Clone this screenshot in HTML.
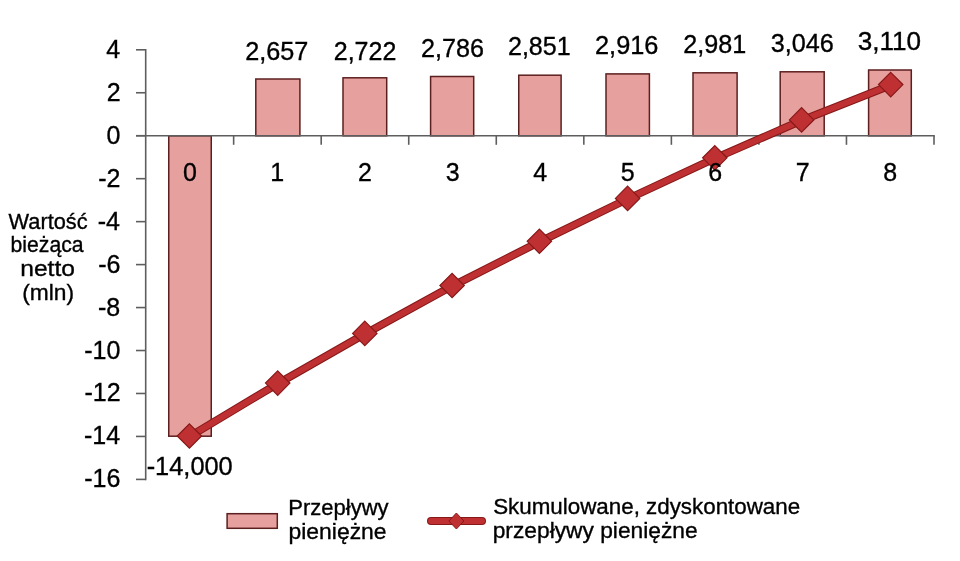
<!DOCTYPE html>
<html><head><meta charset="utf-8"><style>
html,body{margin:0;padding:0;background:#fff;width:960px;height:561px;overflow:hidden;}
svg{display:block;}
text{will-change:transform;}
</style></head><body>
<svg width="960" height="561" viewBox="0 0 960 561">
<rect width="960" height="561" fill="#fff"/>
<rect x="168.75" y="135.80" width="42.50" height="300.40" fill="#E6A09E" stroke="#5C1F1F" stroke-width="1.5"/>
<rect x="255.80" y="79.00" width="44.10" height="56.80" fill="#E6A09E" stroke="#5C1F1F" stroke-width="1.5"/>
<rect x="343.00" y="77.80" width="43.70" height="58.00" fill="#E6A09E" stroke="#5C1F1F" stroke-width="1.5"/>
<rect x="430.60" y="76.50" width="43.10" height="59.30" fill="#E6A09E" stroke="#5C1F1F" stroke-width="1.5"/>
<rect x="518.75" y="75.20" width="42.35" height="60.60" fill="#E6A09E" stroke="#5C1F1F" stroke-width="1.5"/>
<rect x="606.00" y="73.90" width="43.40" height="61.90" fill="#E6A09E" stroke="#5C1F1F" stroke-width="1.5"/>
<rect x="693.00" y="72.80" width="44.10" height="63.00" fill="#E6A09E" stroke="#5C1F1F" stroke-width="1.5"/>
<rect x="780.20" y="71.80" width="44.00" height="64.00" fill="#E6A09E" stroke="#5C1F1F" stroke-width="1.5"/>
<rect x="868.60" y="70.00" width="42.70" height="65.80" fill="#E6A09E" stroke="#5C1F1F" stroke-width="1.5"/>
<g stroke="#5E5E5E" stroke-width="1.6" fill="none">
<line x1="145.70" y1="49.00" x2="145.70" y2="480.20"/>
<line x1="136" y1="49.80" x2="145.70" y2="49.80"/>
<line x1="136" y1="92.76" x2="145.70" y2="92.76"/>
<line x1="136" y1="135.72" x2="145.70" y2="135.72"/>
<line x1="136" y1="178.68" x2="145.70" y2="178.68"/>
<line x1="136" y1="221.64" x2="145.70" y2="221.64"/>
<line x1="136" y1="264.60" x2="145.70" y2="264.60"/>
<line x1="136" y1="307.56" x2="145.70" y2="307.56"/>
<line x1="136" y1="350.52" x2="145.70" y2="350.52"/>
<line x1="136" y1="393.48" x2="145.70" y2="393.48"/>
<line x1="136" y1="436.44" x2="145.70" y2="436.44"/>
<line x1="136" y1="479.40" x2="145.70" y2="479.40"/>
<line x1="136" y1="135.80" x2="934.80" y2="135.80"/>
<line x1="233.64" y1="135.72" x2="233.64" y2="144.8"/>
<line x1="321.19" y1="135.72" x2="321.19" y2="144.8"/>
<line x1="408.73" y1="135.72" x2="408.73" y2="144.8"/>
<line x1="496.28" y1="135.72" x2="496.28" y2="144.8"/>
<line x1="583.82" y1="135.72" x2="583.82" y2="144.8"/>
<line x1="671.37" y1="135.72" x2="671.37" y2="144.8"/>
<line x1="758.91" y1="135.72" x2="758.91" y2="144.8"/>
<line x1="846.46" y1="135.72" x2="846.46" y2="144.8"/>
<line x1="934.00" y1="135.72" x2="934.00" y2="144.8"/>
</g>
<polyline points="189.40,436.60 277.70,383.70 364.80,334.00 452.10,286.10 539.40,241.90 627.60,199.00 714.80,158.40 801.60,120.50 890.70,85.20" fill="none" stroke="#861818" stroke-width="8" stroke-linejoin="round" stroke-linecap="round"/>
<polyline points="189.40,436.60 277.70,383.70 364.80,334.00 452.10,286.10 539.40,241.90 627.60,199.00 714.80,158.40 801.60,120.50 890.70,85.20" fill="none" stroke="#BF3032" stroke-width="6" stroke-linejoin="round" stroke-linecap="round"/>
<path d="M189.40,423.80 L201.60,436.00 L189.40,448.20 L177.20,436.00Z" fill="#BF3032" stroke="#861818" stroke-width="1.2"/>
<path d="M277.70,370.90 L289.90,383.10 L277.70,395.30 L265.50,383.10Z" fill="#BF3032" stroke="#861818" stroke-width="1.2"/>
<path d="M364.80,321.20 L377.00,333.40 L364.80,345.60 L352.60,333.40Z" fill="#BF3032" stroke="#861818" stroke-width="1.2"/>
<path d="M452.10,273.30 L464.30,285.50 L452.10,297.70 L439.90,285.50Z" fill="#BF3032" stroke="#861818" stroke-width="1.2"/>
<path d="M539.40,229.10 L551.60,241.30 L539.40,253.50 L527.20,241.30Z" fill="#BF3032" stroke="#861818" stroke-width="1.2"/>
<path d="M627.60,186.20 L639.80,198.40 L627.60,210.60 L615.40,198.40Z" fill="#BF3032" stroke="#861818" stroke-width="1.2"/>
<path d="M714.80,145.60 L727.00,157.80 L714.80,170.00 L702.60,157.80Z" fill="#BF3032" stroke="#861818" stroke-width="1.2"/>
<path d="M801.60,107.70 L813.80,119.90 L801.60,132.10 L789.40,119.90Z" fill="#BF3032" stroke="#861818" stroke-width="1.2"/>
<path d="M890.70,72.40 L902.90,84.60 L890.70,96.80 L878.50,84.60Z" fill="#BF3032" stroke="#861818" stroke-width="1.2"/>
<g font-family='"Liberation Sans", sans-serif' fill="#000" stroke="#000" stroke-width="0.35">
<text x="106.17" y="57.80" font-size="25">4</text>
<text x="106.67" y="100.76" font-size="25">2</text>
<text x="106.42" y="143.72" font-size="25">0</text>
<text x="98.30" y="186.68" font-size="25">-2</text>
<text x="97.80" y="229.64" font-size="25">-4</text>
<text x="98.17" y="272.60" font-size="25">-6</text>
<text x="98.05" y="315.56" font-size="25">-8</text>
<text x="84.17" y="358.52" font-size="25">-10</text>
<text x="84.42" y="401.48" font-size="25">-12</text>
<text x="83.92" y="444.44" font-size="25">-14</text>
<text x="84.30" y="487.40" font-size="25">-16</text>
<text x="182.93" y="180.50" font-size="25">0</text>
<text x="270.17" y="180.50" font-size="25">1</text>
<text x="358.02" y="180.50" font-size="25">2</text>
<text x="445.63" y="180.50" font-size="25">3</text>
<text x="533.17" y="180.50" font-size="25">4</text>
<text x="620.66" y="180.50" font-size="25">5</text>
<text x="708.14" y="180.50" font-size="25">6</text>
<text x="795.75" y="180.50" font-size="25">7</text>
<text x="883.23" y="180.50" font-size="25">8</text>
<text transform="translate(146.66,474.90) scale(1.0154,1)" font-size="25">-14,000</text>
<text transform="translate(245.14,60.30) scale(1.0100,1)" font-size="25">2,657</text>
<text x="333.75" y="59.50" font-size="25">2,722</text>
<text transform="translate(420.94,56.75) scale(1.0079,1)" font-size="25">2,786</text>
<text transform="translate(507.95,55.40) scale(1.0033,1)" font-size="25">2,851</text>
<text transform="translate(595.03,54.10) scale(1.0129,1)" font-size="25">2,916</text>
<text transform="translate(683.34,52.50) scale(1.0067,1)" font-size="25">2,981</text>
<text transform="translate(770.74,51.70) scale(1.0079,1)" font-size="25">3,046</text>
<text transform="translate(857.71,50.10) scale(1.0448,1)" font-size="25">3,110</text>
<text transform="translate(8.59,229.00) scale(0.9899,1)" font-size="22">Wartość</text>
<text transform="translate(10.52,252.30) scale(0.9642,1)" font-size="22">bieżąca</text>
<text transform="translate(20.20,276.30) scale(1.1192,1)" font-size="22">netto</text>
<text transform="translate(22.23,300.00) scale(1.0356,1)" font-size="22">(mln)</text>
<text transform="translate(288.24,514.60) scale(1.0016,1)" font-size="22">Przepływy</text>
<text transform="translate(288.51,538.50) scale(1.0421,1)" font-size="22">pieniężne</text>
<text transform="translate(493.19,514.30) scale(1.0171,1)" font-size="22">Skumulowane, zdyskontowane</text>
<text transform="translate(492.72,538.30) scale(1.0348,1)" font-size="22">przepływy pieniężne</text>
</g>
<rect x="227.1" y="513.7" width="50.2" height="14.6" fill="#E6A09E" stroke="#5C1F1F" stroke-width="1.5"/>
<line x1="431" y1="521" x2="482" y2="521" stroke="#861818" stroke-width="8" stroke-linecap="round"/>
<line x1="431" y1="521" x2="482" y2="521" stroke="#BF3032" stroke-width="6" stroke-linecap="round"/>
<path d="M456.40,513.00 L463.90,521.00 L456.40,529.00 L448.90,521.00Z" fill="#BF3032" stroke="#861818" stroke-width="1"/>
</svg>
</body></html>
